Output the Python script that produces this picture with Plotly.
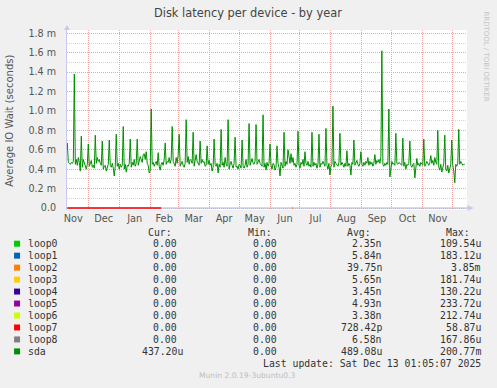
import plotly.graph_objects as go
import pandas as pd

# ---------------- data ----------------
start_date = "2024-11-10"
# sda daily average IO wait, in milliseconds (one row per week)
sda_ms = [
    0.67, 0.47, 0.46, 0.45, 0.47, 0.46, 0.48,
    1.38, 0.45, 0.50, 0.44, 0.52, 0.47, 0.38,
    0.74, 0.42, 0.50, 0.46, 0.44, 0.40, 0.45,
    0.66, 0.43, 0.47, 0.49, 0.42, 0.44, 0.41,
    0.75, 0.46, 0.52, 0.48, 0.50, 0.46, 0.44,
    0.69, 0.40, 0.43, 0.44, 0.38, 0.42, 0.45,
    0.70, 0.44, 0.42, 0.46, 0.41, 0.33, 0.43,
    0.76, 0.43, 0.46, 0.40, 0.45, 0.42, 0.44,
    0.84, 0.40, 0.45, 0.37, 0.44, 0.43, 0.46,
    0.71, 0.42, 0.47, 0.44, 0.50, 0.43, 0.46,
    0.71, 0.44, 0.48, 0.53, 0.50, 0.47, 0.55,
    0.56, 0.50, 0.58, 0.46, 0.44, 0.36, 0.38,
    1.02, 0.45, 0.47, 0.43, 0.46, 0.48, 0.44,
    0.57, 0.43, 0.39, 0.45, 0.47, 0.44, 0.50,
    0.67, 0.45, 0.48, 0.47, 0.52, 0.46, 0.50,
    0.84, 0.48, 0.44, 0.43, 0.52, 0.46, 0.55,
    0.76, 0.43, 0.45, 0.48, 0.44, 0.42, 0.46,
    0.91, 0.47, 0.53, 0.45, 0.50, 0.49, 0.46,
    0.78, 0.43, 0.49, 0.55, 0.48, 0.45, 0.44,
    0.69, 0.46, 0.50, 0.47, 0.48, 0.43, 0.44,
    0.64, 0.45, 0.49, 0.44, 0.46, 0.38, 0.42,
    0.71, 0.45, 0.43, 0.46, 0.36, 0.45, 0.42,
    0.81, 0.44, 0.47, 0.42, 0.52, 0.45, 0.43,
    0.91, 0.40, 0.45, 0.48, 0.44, 0.41, 0.46,
    0.73, 0.42, 0.43, 0.40, 0.45, 0.44, 0.41,
    0.70, 0.43, 0.41, 0.44, 0.50, 0.42, 0.45,
    0.87, 0.44, 0.49, 0.51, 0.46, 0.45, 0.48,
    0.86, 0.45, 0.47, 0.50, 0.46, 0.44, 0.43,
    0.96, 0.42, 0.46, 0.39, 0.47, 0.43, 0.46,
    0.66, 0.44, 0.40, 0.46, 0.45, 0.39, 0.42,
    0.64, 0.46, 0.42, 0.33, 0.47, 0.43, 0.41,
    0.78, 0.43, 0.48, 0.45, 0.60, 0.50, 0.46,
    0.56, 0.47, 0.52, 0.44, 0.46, 0.42, 0.45,
    0.79, 0.44, 0.41, 0.47, 0.45, 0.50, 0.43,
    0.58, 0.46, 0.44, 0.48, 0.43, 0.45, 0.42,
    0.78, 0.43, 0.47, 0.44, 0.46, 0.41, 0.45,
    0.76, 0.42, 0.46, 0.45, 0.48, 0.44, 0.43,
    0.82, 0.44, 0.40, 0.46, 0.34, 0.43, 0.45,
    1.05, 0.42, 0.48, 0.46, 0.44, 0.43, 0.47,
    0.77, 0.44, 0.47, 0.45, 0.42, 0.46, 0.43,
    0.59, 0.43, 0.46, 0.44, 0.34, 0.47, 0.45,
    0.70, 0.44, 0.46, 0.49, 0.45, 0.43, 0.46,
    0.58, 0.45, 0.43, 0.47, 0.44, 0.48, 0.46,
    0.52, 0.44, 0.48, 0.45, 0.47, 0.43, 0.46,
    0.55, 0.45, 0.49, 0.47, 0.50, 0.46, 0.53,
    1.62, 0.45, 0.43, 0.46, 0.44, 0.47, 0.45,
    1.02, 0.32, 0.44, 0.48, 0.45, 0.46, 0.44,
    0.77, 0.46, 0.45, 0.47, 0.46, 0.45, 0.44,
    0.72, 0.43, 0.47, 0.40, 0.45, 0.44, 0.46,
    0.69, 0.44, 0.42, 0.45, 0.46, 0.31, 0.45,
    0.51, 0.44, 0.46, 0.43, 0.47, 0.45, 0.44,
    0.71, 0.43, 0.45, 0.48, 0.46, 0.44, 0.47,
    0.54, 0.46, 0.49, 0.44, 0.52, 0.47, 0.45,
    0.80, 0.42, 0.39, 0.45, 0.37, 0.43, 0.46,
    0.75, 0.40, 0.38, 0.44, 0.36, 0.42, 0.45,
    0.70, 0.44, 0.38, 0.26, 0.45, 0.43, 0.46,
    0.81, 0.45, 0.48, 0.46, 0.44, 0.45, 0.45,
]
loop7_dates = ["2024-11-10", "2025-02-12"]
loop7_ms = [0.0, 0.0]
loop2_dates = ["2025-06-23", "2025-06-24"]
loop2_ms = [0.0, 0.0]

series_names = ["loop0", "loop1", "loop2", "loop3", "loop4", "loop5",
                "loop6", "loop7", "loop8", "sda"]
series_colors = ["#00CC00", "#0066B3", "#FF8000", "#FFCC00", "#330099",
                 "#990099", "#CCFF00", "#FF0000", "#808080", "#008F00"]
cur_vals = ["0.00", "0.00", "0.00", "0.00", "0.00", "0.00", "0.00",
            "0.00", "0.00", "437.20u"]
min_vals = ["0.00"] * 10
avg_vals = ["2.35n", "5.84n", "39.75n", "5.65n", "3.45n", "4.93n", "3.38n",
            "728.42p", "6.58n", "489.08u"]
max_vals = ["109.54u", "183.12u", "3.85m", "181.74u", "130.22u", "233.72u",
            "212.74u", "58.87u", "167.86u", "200.77m"]

y_tick_vals = [0.0, 0.2, 0.4, 0.6, 0.8, 1.0, 1.2, 1.4, 1.6, 1.8]
y_tick_text = ["0.0", "0.2 m", "0.4 m", "0.6 m", "0.8 m", "1.0 m",
               "1.2 m", "1.4 m", "1.6 m", "1.8 m"]

title_text = "Disk latency per device - by year"
y_title = "Average IO Wait (seconds)"
last_update = "Last update: Sat Dec 13 01:05:07 2025"
footer = "Munin 2.0.19-3ubuntu0.3"
side_text = "RRDTOOL / TOBI OETIKER"

# ---------------- layout geometry (pixels) ----------------
W, H = 497, 388
PL, PR, PT, PB = 67, 467.5, 30, 210.5
Y_TOP = 1.834
Y_BOT = -0.02055


def px(x):
    return (x - PL) / (PR - PL)


def py(y):
    return (PB - y) / (PB - PT)


sda_dates = pd.date_range(start_date, periods=len(sda_ms), freq="D")

fig = go.Figure()
fig.add_trace(go.Scatter(x=loop7_dates, y=loop7_ms, mode="lines",
                         line=dict(color=series_colors[7], width=1.4),
                         hoverinfo="skip", showlegend=False))
fig.add_trace(go.Scatter(x=loop2_dates, y=loop2_ms, mode="lines",
                         line=dict(color=series_colors[2], width=1.4),
                         hoverinfo="skip", showlegend=False))
fig.add_trace(go.Scatter(x=sda_dates, y=sda_ms, mode="lines",
                         line=dict(color=series_colors[9], width=1),
                         hoverinfo="skip", showlegend=False))

GRID_MAJOR = "#F3A3A3"
GRID_MINOR = "#D6D6D6"
AXIS_COL = "#B4B4DC"
TEXT_COL = "#555555"

fig.update_layout(
    template="none",
    width=W, height=H,
    margin=dict(l=PL, r=W - PR, t=PT, b=H - PB, pad=0),
    paper_bgcolor="#F0F0F0",
    plot_bgcolor="#FFFFFF",
    showlegend=False,
    hovermode=False,
    font=dict(family="DejaVu Sans", size=10, color=TEXT_COL),
    xaxis=dict(
        type="date",
        range=["2024-11-09 16:00", "2025-12-15 06:00"],
        tick0="2024-12-01", dtick="M1", tickformat="%b",
        ticklabelmode="period",
        ticks="", showgrid=True, gridcolor=GRID_MAJOR, gridwidth=1,
        griddash="1px,1px",
        showline=False,
        zeroline=False,
        ticklabelstandoff=1,
        tickfont=dict(family="DejaVu Sans", size=9.8, color=TEXT_COL),
        fixedrange=True,
    ),
    yaxis=dict(
        range=[Y_BOT, Y_TOP],
        tickmode="array", tickvals=y_tick_vals, ticktext=y_tick_text,
        ticks="", showgrid=True, gridcolor=GRID_MAJOR, gridwidth=1,
        griddash="1px,1px",
        minor=dict(tickmode="linear", tick0=0, dtick=0.1, showgrid=True,
                   gridcolor=GRID_MINOR, griddash="1px,1px", ticks=""),
        showline=True, linecolor="#C8C8F0", linewidth=1,
        zeroline=False,
        ticklabelstandoff=8,
        tickfont=dict(family="DejaVu Sans", size=9.6, color=TEXT_COL),
        fixedrange=True,
    ),
)

annotations = []
shapes = []


def add_text(x, y, text, size, color, xanchor="center", family="DejaVu Sans",
             angle=0):
    annotations.append(dict(
        x=px(x), y=py(y), xref="paper", yref="paper", text=text,
        showarrow=False, xanchor=xanchor, yanchor="middle", textangle=angle,
        font=dict(family=family, size=size, color=color),
    ))


add_text(248, 13, title_text, 11.4, "#444444")
add_text(10, 121, y_title, 10, TEXT_COL, angle=-90)
add_text(487, 57, side_text, 7, "#C4C4C4", angle=90)

# x axis line at zero (below the data traces so loop7 shows on top)
shapes.append(dict(type="line", xref="paper", yref="y", x0=0, x1=px(469),
                   y0=0, y1=0, layer="below",
                   line=dict(color=AXIS_COL, width=1)))
# axis arrows
shapes.append(dict(type="path", xref="paper", yref="paper",
                   path=f"M {px(64)} {py(30)} L {px(70)} {py(30)} L {px(67)} {py(25)} Z",
                   fillcolor="#C8C8F0", line=dict(width=0)))
shapes.append(dict(type="path", xref="paper", yref="paper",
                   path=f"M {px(468)} {py(205.5)} L {px(468)} {py(211.5)} L {px(474)} {py(208.5)} Z",
                   fillcolor="#C8C8F0", line=dict(width=0)))

# legend table
MONO = "DejaVu Sans Mono"
MS = 9.8
CW = 5.9
LEG_COL = "#333333"
header_y = 233.3
for label, cx in [("Cur:", 160), ("Min:", 260), ("Avg:", 359), ("Max:", 458)]:
    add_text(cx, header_y, label, MS, LEG_COL, family=MONO)

col_ends = [185.3, 285.3, 384.3, 483.3]
for i, name in enumerate(series_names):
    ry = 244.3 + 12 * i
    shapes.append(dict(type="rect", xref="paper", yref="paper",
                       x0=px(14), x1=px(20), y0=py(ry - 3), y1=py(ry + 3),
                       fillcolor=series_colors[i], line=dict(width=0)))
    add_text(26, ry, name, MS, LEG_COL, xanchor="left", family=MONO)
    for vals, cend in zip([cur_vals, min_vals, avg_vals, max_vals], col_ends):
        v = vals[i]
        xe = cend if v[-1].isalpha() else cend - CW
        add_text(xe, ry, v, MS, LEG_COL, xanchor="right", family=MONO)

add_text(483.3, 364.7, last_update, MS, LEG_COL, xanchor="right", family=MONO)
add_text(248, 376.7, footer, 7.6, "#BDBDBD")

fig.update_layout(annotations=annotations, shapes=shapes)

fig.write_html("out.html")
